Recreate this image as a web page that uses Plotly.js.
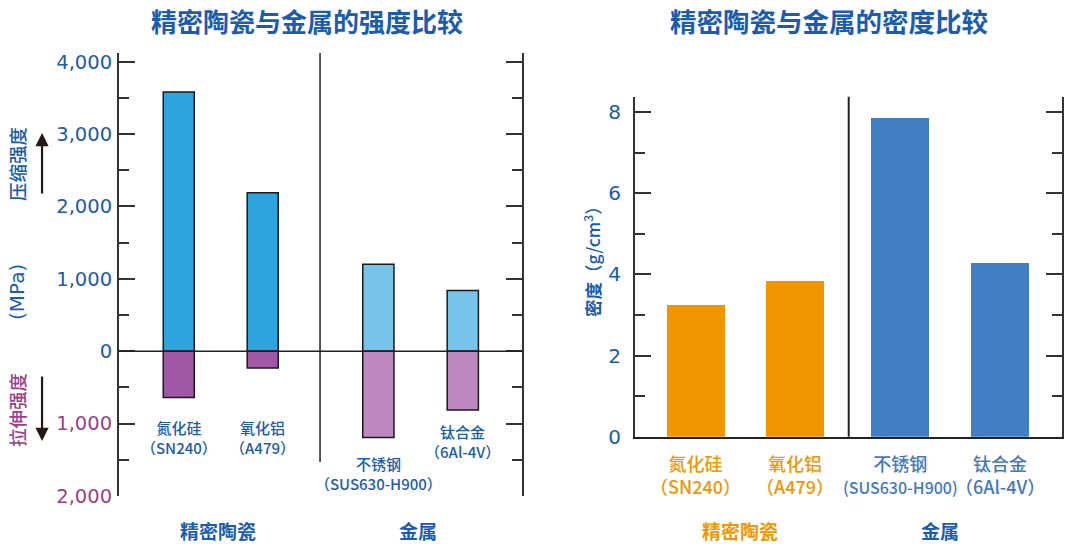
<!DOCTYPE html>
<html>
<head>
<meta charset="utf-8">
<script src="https://cdn.plot.ly/plotly-3.0.1.min.js"></script>
<style>html,body{margin:0;padding:0;background:#fff;}#chart{width:1070px;height:544px;}</style>
</head>
<body>
<div id="chart"></div>
<script>
// ---- data ----
const ceramics = ['氮化硅', '氧化铝'];
const ceramicGrades = ['SN240', 'A479'];
const metals = ['不锈钢', '钛合金'];
const metalGrades = ['SUS630-H900', '6Al-4V'];
const ceramicCompressive = [3580, 2190];   // MPa
const ceramicTensile = [640, 230];         // MPa
const metalCompressive = [1200, 840];      // MPa
const metalTensile = [1190, 810];          // MPa
const ceramicDensity = [3.24, 3.85];       // g/cm3
const metalDensity = [7.85, 4.28];         // g/cm3
const strengthTickVals = [-2000, -1000, 0, 1000, 2000, 3000, 4000];
const strengthTickText = ['2,000', '1,000', '0', '1,000', '2,000', '3,000', '4,000'];
const densityTickVals = [0, 2, 4, 6, 8];

// ---- styles ----
const BLUE = '#1a5cb0';
const MAG = '#9a3f8e';
const ORANGE = '#f29600';
const LBLUE = '#4479c0';
const CJK = '"Noto Sans CJK SC", "Noto Sans", sans-serif';
const NUM = '"DejaVu Sans", "Noto Sans", sans-serif';
const AX = '#333';

const neg = a => a.map(v => -v);
const outline = {color: '#1a1a1a', width: 1.5};

const traces = [
  {type: 'bar', x: ceramics, y: ceramicCompressive, xaxis: 'x', yaxis: 'y', width: 0.37,
   marker: {color: '#2ea4df', line: outline}, hoverinfo: 'skip'},
  {type: 'bar', x: ceramics, y: neg(ceramicTensile), xaxis: 'x', yaxis: 'y', width: 0.37,
   marker: {color: '#a057a5', line: outline}, hoverinfo: 'skip'},
  {type: 'bar', x: metals, y: metalCompressive, xaxis: 'x2', yaxis: 'y', width: 0.37,
   marker: {color: '#76c4ea', line: outline}, hoverinfo: 'skip'},
  {type: 'bar', x: metals, y: neg(metalTensile), xaxis: 'x2', yaxis: 'y', width: 0.37,
   marker: {color: '#bd88bf', line: outline}, hoverinfo: 'skip'},
  {type: 'scatter', x: [], y: [], xaxis: 'x2', yaxis: 'y3', hoverinfo: 'skip'},
  {type: 'bar', x: ceramics, y: ceramicDensity, xaxis: 'x3', yaxis: 'y2', width: 0.58,
   marker: {color: ORANGE, line: {width: 0}}, hoverinfo: 'skip'},
  {type: 'bar', x: metals, y: metalDensity, xaxis: 'x4', yaxis: 'y2', width: 0.58,
   marker: {color: '#427ec3', line: {width: 0}}, hoverinfo: 'skip'},
  {type: 'scatter', x: [], y: [], xaxis: 'x4', yaxis: 'y4', hoverinfo: 'skip'}
];

const hx = {type: 'category', showgrid: false, zeroline: false, showticklabels: false, ticks: '', fixedrange: true};
const yStr = {range: [-2000, 4120], domain: [0.0882, 0.9026], showgrid: false, zeroline: false,
  showline: true, linecolor: AX, linewidth: 2, ticks: 'inside', ticklen: 16, tickwidth: 2, tickcolor: AX,
  tickmode: 'array', tickvals: strengthTickVals,
  minor: {tickvals: [-1500, -500, 500, 1500, 2500, 3500], ticks: 'inside', ticklen: 10, tickwidth: 2, tickcolor: AX, showgrid: false}};
const yDen = {range: [0, 8.38], domain: [0.1972, 0.8222], showgrid: false, zeroline: false,
  showline: true, linecolor: AX, linewidth: 2, ticks: 'inside', ticklen: 16, tickwidth: 2, tickcolor: AX,
  tickmode: 'array', tickvals: densityTickVals,
  minor: {tickvals: [1, 3, 5, 7], ticks: 'inside', ticklen: 10, tickwidth: 2, tickcolor: AX, showgrid: false}};

const ticktext = strengthTickText.map((t, i) =>
  strengthTickVals[i] < 0 ? '<span style="color:' + MAG + '">' + t + '</span>' : t);

function ann(text, x, y, opts) {
  return Object.assign({text: text, x: x, y: y, xref: 'paper', yref: 'paper', showarrow: false,
    xanchor: 'center', yanchor: 'middle'}, opts || {});
}

const annotations = [
  ann('<b>精密陶瓷与金属的强度比较</b>', 0.2869, 0.963, {font: {family: CJK, size: 26, color: BLUE}}),
  ann('<b>精密陶瓷与金属的密度比较</b>', 0.7748, 0.963, {font: {family: CJK, size: 26.5, color: BLUE}}),
  ann('压缩强度', 0.0159, 0.6985, {textangle: -90, font: {family: CJK, size: 18.5, color: BLUE, weight: 500}}),
  ann('(MPa)', 0.0159, 0.4632, {textangle: -90, font: {family: NUM, size: 20, color: BLUE}}),
  ann('拉伸强度', 0.0159, 0.2463, {textangle: -90, font: {family: CJK, size: 18.5, color: MAG, weight: 500}}),
  ann('', 0.0393, 0.7555, {showarrow: true, ax: 0, ay: 62, arrowhead: 2, arrowsize: 1.2, arrowwidth: 2.2, arrowcolor: '#231815'}),
  ann('', 0.0393, 0.1893, {showarrow: true, ax: 0, ay: -66, arrowhead: 2, arrowsize: 1.2, arrowwidth: 2.2, arrowcolor: '#231815'}),
  ann('<b>密度</b>（g/cm<sup>3</sup>）', 0.5533, 0.5276, {textangle: -90, font: {family: CJK, size: 17.5, color: BLUE, weight: 500}}),
  ann('<b>精密陶瓷</b>', 0.2037, 0.0257, {font: {family: CJK, size: 19, color: BLUE}}),
  ann('<b>金属</b>', 0.3907, 0.0257, {font: {family: CJK, size: 19, color: BLUE}}),
  ann('<b>精密陶瓷</b>', 0.6916, 0.0257, {font: {family: CJK, size: 19, color: ORANGE}}),
  ann('<b>金属</b>', 0.8785, 0.0257, {font: {family: CJK, size: 19, color: BLUE}})
];

// left chart category labels
const leftLabelY = [[0.1949, 0.1949], [0.1305, 0.1893]];
ceramics.forEach((c, i) => annotations.push(ann(c + '<br>（' + ceramicGrades[i] + '）', c, leftLabelY[0][i],
  {xref: 'x', font: {family: CJK, size: 15, color: BLUE, weight: 500}})));
metals.forEach((c, i) => annotations.push(ann(c + '<br>（' + metalGrades[i] + '）', c, leftLabelY[1][i],
  {xref: 'x2', font: {family: CJK, size: 15, color: BLUE, weight: 500}})));
// right chart category labels
ceramics.forEach((c, i) => annotations.push(ann(c + '<br>（' + ceramicGrades[i] + '）', c, 0.1278,
  {xref: 'x3', font: {family: CJK, size: 18, color: ORANGE, weight: 500}})));
metals.forEach((c, i) => annotations.push(ann(c + '<br>' + (i === 0
    ? '<span style="font-size:16px">(' + metalGrades[i] + ')</span>'
    : '（' + metalGrades[i] + '）'), c, 0.1278,
  {xref: 'x4', font: {family: CJK, size: 18, color: LBLUE, weight: 500}})));

const layout = {
  width: 1070, height: 544, margin: {l: 0, r: 0, t: 0, b: 0},
  paper_bgcolor: '#fff', plot_bgcolor: 'rgba(0,0,0,0)',
  showlegend: false, barmode: 'relative', bargap: 0,
  xaxis: Object.assign({}, hx, {domain: [0.1112, 0.2991], anchor: 'y', range: [-0.7125, 1.683]}),
  xaxis2: Object.assign({}, hx, {domain: [0.2991, 0.4879], anchor: 'y', range: [-0.691, 1.702]}),
  xaxis3: Object.assign({}, hx, {domain: [0.5935, 0.7932], anchor: 'y2', range: [-0.612, 1.538],
    showline: true, linecolor: '#222', linewidth: 2}),
  xaxis4: Object.assign({}, hx, {domain: [0.7932, 0.9928], anchor: 'y2', range: [-0.5187, 1.628],
    showline: true, linecolor: '#222', linewidth: 2}),
  yaxis: Object.assign({}, yStr, {anchor: 'x', side: 'left', ticktext: ticktext,
    tickfont: {family: NUM, size: 19.5, color: BLUE}, ticklabelstandoff: 1}),
  yaxis3: Object.assign({}, yStr, {anchor: 'x2', side: 'right', overlaying: 'y', showticklabels: false}),
  yaxis2: Object.assign({}, yDen, {anchor: 'x3', side: 'left', ticktext: densityTickVals.map(String),
    tickfont: {family: NUM, size: 20, color: BLUE}, ticklabelstandoff: 8}),
  yaxis4: Object.assign({}, yDen, {anchor: 'x4', side: 'right', overlaying: 'y2', showticklabels: false}),
  shapes: [
    {type: 'line', xref: 'paper', yref: 'y', x0: 0.1112, x1: 0.4879, y0: 0, y1: 0, line: {color: '#222', width: 1.5}, layer: 'above'},
    {type: 'line', xref: 'x2 domain', yref: 'paper', x0: 0, x1: 0, y0: 0.1507, y1: 0.9026, line: {color: '#222', width: 1.5}},
    {type: 'line', xref: 'x4 domain', yref: 'y2 domain', x0: 0, x1: 0, y0: 0, y1: 1, line: {color: '#222', width: 2}}
  ],
  annotations: annotations,
  font: {family: CJK}
};

Plotly.newPlot('chart', traces, layout, {staticPlot: true, displayModeBar: false});
</script>
</body>
</html>
